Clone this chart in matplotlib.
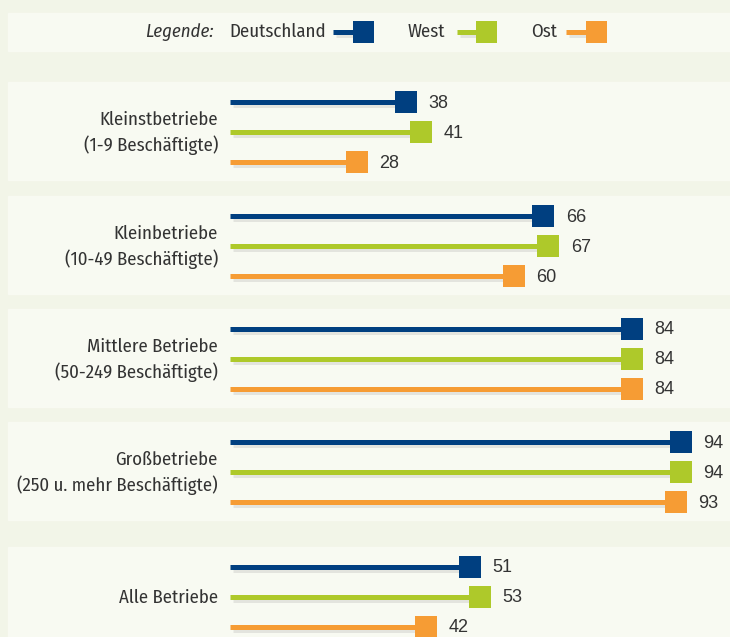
import matplotlib.pyplot as plt
import matplotlib.patheffects as pe
from matplotlib.patches import Rectangle

groups = ['Kleinstbetriebe\n(1-9 Beschäftigte)',
          'Kleinbetriebe\n(10-49 Beschäftigte)',
          'Mittlere Betriebe\n(50-249 Beschäftigte)',
          'Großbetriebe\n(250 u. mehr Beschäftigte)',
          'Alle Betriebe']
deutschland = [38, 66, 84, 94, 51]
west = [41, 67, 84, 94, 53]
ost = [28, 60, 84, 93, 42]
series_names = ['Deutschland', 'West', 'Ost']
colors = ['#003f80', '#aec92a', '#f69c34']

plt.rcParams['font.family'] = ['Fira Sans Condensed', 'DejaVu Sans']
numfont = ['Liberation Sans', 'DejaVu Sans']
txt = '#333333'

W, H = 730, 637
fig = plt.figure(figsize=(W / 100, H / 100), dpi=100)
fig.patch.set_facecolor('#f2f5e8')
ax = fig.add_axes([0, 0, 1, 1])
ax.set_facecolor('#f2f5e8')
# x in value units, y in pixels
px0, scale = 219.4, 4.91
ax.set_xlim(-px0 / scale, (W - px0) / scale)
ax.set_ylim(H, 0)
ax.axis('off')

def vx(p):
    return (p - px0) / scale

panel = '#f8faf2'
# legend panel
ax.add_patch(Rectangle((vx(8), 13), vx(W) - vx(8), 38, color=panel, zorder=0))
group_top = [82, 196, 309, 422, 547]
group_h = [98, 98, 98, 98, 100]
for t, h in zip(group_top, group_h):
    ax.add_patch(Rectangle((vx(8), t), vx(W) - vx(8), h, color=panel, zorder=0))

shadow = [pe.SimpleLineShadow(offset=(2, -2.5), shadow_color='#9a9a9a', alpha=0.22), pe.Normal()]
start = vx(230)
sq = 15.8
data = [deutschland, west, ost]
for g, label in enumerate(groups):
    c = group_top[g] + 50
    ys = [c - 30, c, c + 30]
    ax.text(vx(218), c + 1, label, ha='right', va='center', fontsize=13.5,
            color=txt, linespacing=1.42)
    for s in range(3):
        v = data[s][g]
        ax.plot([start, v], [ys[s], ys[s]], color=colors[s], lw=3.6,
                solid_capstyle='butt', zorder=2, path_effects=shadow)
        ax.plot(v, ys[s], marker='s', ms=sq, color=colors[s], mew=0,
                zorder=3, path_effects=shadow)
        ax.text(v + 4.6, ys[s] + 1, str(v), ha='left', va='center',
                fontsize=13, color=txt, family=numfont)

# legend
ly = 32
ax.text(vx(214), ly, 'Legende:', ha='right', va='center', style='italic',
        fontsize=13.5, color=txt)
leg = [(229, 333, 363.5), (408, 457, 486.5), (531, 566, 596.5)]
for (tx, lx, mx), name, col in zip(leg, series_names, colors):
    ax.text(vx(tx), ly, name, ha='left', va='center', fontsize=13.5, color=txt)
    ax.plot([vx(lx), vx(mx)], [ly, ly], color=col, lw=3.6,
            solid_capstyle='butt', path_effects=shadow)
    ax.plot(vx(mx), ly, marker='s', ms=sq, color=col, mew=0, path_effects=shadow)

fig.savefig('out.png', dpi=100, facecolor=fig.get_facecolor())
